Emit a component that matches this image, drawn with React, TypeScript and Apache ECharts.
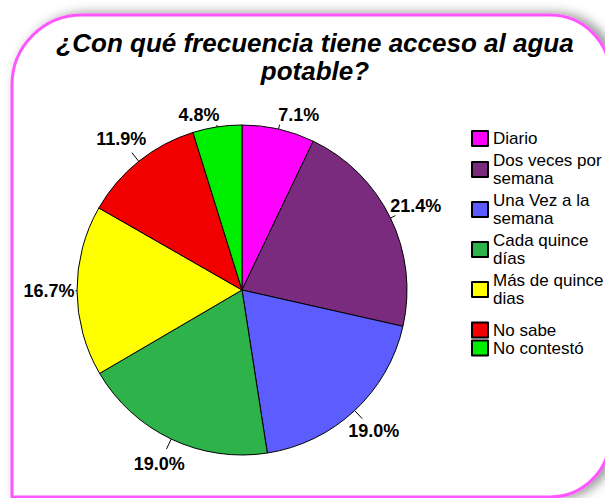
import React, { useEffect, useRef } from 'react';
import * as echarts from 'echarts';

const categories = [
  'Diario',
  'Dos veces por\nsemana',
  'Una Vez a la\nsemana',
  'Cada quince\ndías',
  'Más de quince\ndias',
  'No sabe',
  'No contestó',
];
const percentages = [7.1, 21.4, 19.0, 19.0, 16.7, 11.9, 4.8];
const colors = ['#FF00FF', '#7B2B7D', '#5C5CFF', '#2DB34A', '#FFFF00', '#F20000', '#00EE00'];
const titleLines = ['¿Con qué frecuencia tiene acceso al agua', 'potable?'];

const FONT = '"Liberation Sans", Arial, sans-serif';

// layout constants
const CX = 242;
const CY = 290;
const R = 165;
const LABEL_R = 193;
const LABEL_MIN_Y = 115;

export default function App() {
  const ref = useRef<HTMLDivElement>(null);
  useEffect(() => {
    if (!ref.current) return;
    const chart = echarts.init(ref.current, null, { renderer: 'svg' });

    const total = percentages.reduce((a, b) => a + b, 0);
    const midAngles: number[] = [];
    let cum = 0;
    percentages.forEach((v) => {
      midAngles.push(((cum + v / 2) / total) * 2 * Math.PI);
      cum += v;
    });

    const labelLayout = (params: any) => {
      const th = midAngles[params.dataIndex];
      const s = Math.sin(th);
      const c = Math.cos(th);
      let x = CX + LABEL_R * s;
      let y = CY - LABEL_R * c;
      if (y < LABEL_MIN_Y) {
        y = LABEL_MIN_Y;
        x += Math.sign(s) * 14;
      }
      const w = params.labelRect.width;
      const h = params.labelRect.height;
      const inBox = (px: number, py: number) =>
        px >= x - w / 2 - 1 && px <= x + w / 2 + 1 && py >= y - h / 2 - 1 && py <= y + h / 2 + 1;
      const p0 = [CX + R * s, CY - R * c];
      let r = R;
      while (r < R + 11 && !inBox(CX + r * s, CY - r * c)) r += 0.5;
      const p1 = [CX + r * s, CY - r * c];
      return {
        x,
        y,
        align: 'center',
        verticalAlign: 'middle',
        labelLinePoints: [p0, p1, p1],
      };
    };

    const legendText = { fontFamily: FONT, fontSize: 17, lineHeight: 18, color: '#000' };

    chart.setOption({
      animation: false,
      backgroundColor: '#ffffff',
      graphic: [
        {
          type: 'rect',
          z: -10,
          silent: true,
          shape: { x: 12, y: 15, width: 598, height: 482, r: [70, 60, 60, 0] },
          style: {
            fill: '#ffffff',
            stroke: '#FF55FF',
            lineWidth: 3,
            shadowBlur: 12,
            shadowColor: 'rgba(0,0,0,0.45)',
            shadowOffsetX: 6,
            shadowOffsetY: 0,
          },
        },
        {
          type: 'text',
          z: 10,
          x: 315,
          y: 29,
          style: {
            text: titleLines.join('\n'),
            font: 'italic bold 26px ' + FONT,
            fill: '#000',
            align: 'center',
            textAlign: 'center',
            lineHeight: 28,
          },
        },
      ],
      legend: [
        {
          orient: 'vertical',
          left: 466,
          top: 124.5,
          itemWidth: 16,
          itemHeight: 15,
          itemGap: 4,
          icon: 'rect',
          selectedMode: false,
          textStyle: legendText,
          data: categories.slice(0, 5),
        },
        {
          orient: 'vertical',
          left: 466,
          top: 316,
          itemWidth: 16,
          itemHeight: 15,
          itemGap: 0,
          icon: 'rect',
          selectedMode: false,
          textStyle: { ...legendText, lineHeight: 18 },
          data: categories.slice(5),
        },
      ],
      series: [
        {
          type: 'pie',
          center: [CX, CY],
          radius: R,
          startAngle: 90,
          clockwise: true,
          avoidLabelOverlap: false,
          emphasis: { disabled: true },
          itemStyle: { borderColor: '#000', borderWidth: 1 },
          label: {
            show: true,
            position: 'outside',
            formatter: (p: any) => Number(p.value).toFixed(1) + '%',
            fontFamily: FONT,
            fontWeight: 'bold',
            fontSize: 18,
            color: '#000',
          },
          labelLine: { show: true, length: 8, length2: 0, lineStyle: { color: '#000', width: 1 } },
          labelLayout,
          data: categories.map((name, i) => ({
            name,
            value: percentages[i],
            itemStyle: { color: colors[i] },
          })),
        },
      ],
    });
    return () => chart.dispose();
  }, []);
  return (
    <div
      ref={ref}
      style={{ position: 'absolute', left: 0, top: 0, width: 605, height: 498 }}
    />
  );
}
